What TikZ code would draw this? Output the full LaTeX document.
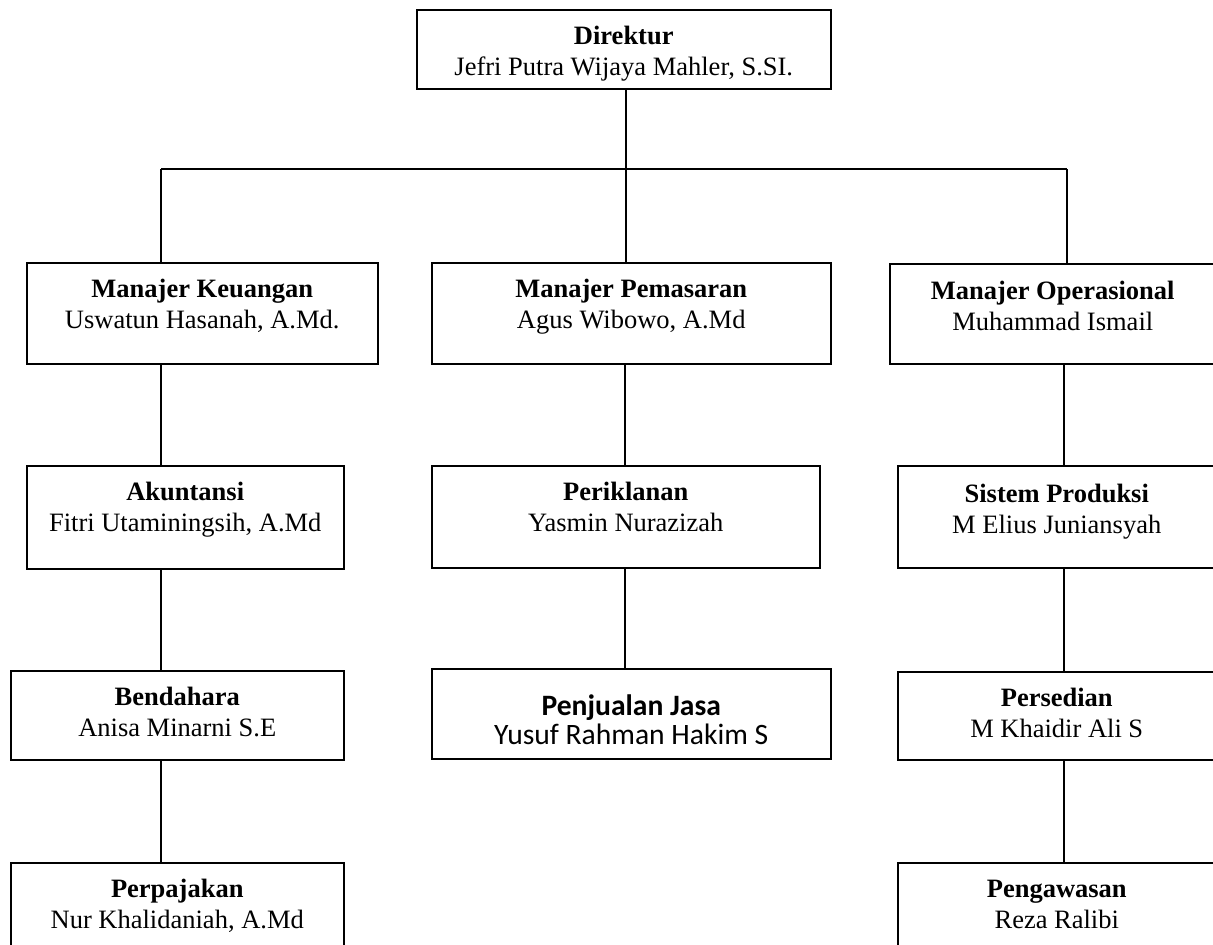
\documentclass[tikz,border=0pt]{standalone}
\usepackage{fontspec}
\setmainfont{Liberation Serif}
\newfontfamily\calib{Carlito}
\begin{document}
\begin{tikzpicture}[x=1pt,y=-1pt,
  box/.style={draw, line width=1.5pt, rectangle, anchor=north west, inner sep=0pt, align=center,
    font=\fontsize{26.5}{31}\selectfont, text height=66pt},
  conn/.style={line width=1.5pt}]
\useasboundingbox (0,0) rectangle (1213,945);
\clip (0,0) rectangle (1213,945);
% boxes
\node[box, minimum width=414pt, text height=66pt, text depth=13pt] (dir) at (416,9) {\textbf{Direktur}\\Jefri Putra Wijaya Mahler, S.SI.};
\node[box, minimum width=351pt, text depth=35pt] (mk) at (26,262) {\textbf{Manajer Keuangan}\\Uswatun Hasanah, A.Md.};
\node[box, minimum width=399pt, text depth=35pt] (mp) at (431,262) {\textbf{Manajer Pemasaran}\\Agus Wibowo, A.Md};
\node[box, minimum width=326pt, text height=67pt, text depth=33pt] (mo) at (889,263) {\textbf{Manajer Operasional}\\Muhammad Ismail};
\node[box, minimum width=317pt, text depth=37pt] (ak) at (26,465) {\textbf{Akuntansi}\\Fitri Utaminingsih, A.Md};
\node[box, minimum width=388pt, text depth=36pt] (pr) at (431,465) {\textbf{Periklanan}\\Yasmin Nurazizah};
\node[box, minimum width=318pt, text height=68pt, text depth=34pt] (sp) at (897,465) {\textbf{Sistem Produksi}\\M Elius Juniansyah};
\node[box, minimum width=333pt, text depth=23pt] (be) at (10,670) {\textbf{Bendahara}\\Anisa Minarni S.E};
\node[box, minimum width=399pt, text height=76pt, text depth=14pt, font=\calib\fontsize{29.6}{29}\selectfont] (pj) at (431,668) {\textbf{Penjualan Jasa}\\Yusuf Rahman Hakim S};
\node[box, minimum width=318pt, text depth=22pt] (ps) at (897,671) {\textbf{Persedian}\\M Khaidir Ali S};
\node[box, minimum width=333pt, text depth=34pt] (pp) at (10,862) {\textbf{Perpajakan}\\Nur Khalidaniah, A.Md};
\node[box, minimum width=318pt, text depth=34pt] (pg) at (897,862) {\textbf{Pengawasan}\\Reza Ralibi};
% connector coordinates
\coordinate (busL) at (161,169);
\coordinate (busM) at (626,169);
\coordinate (busR) at (1067,169);
\coordinate (lc) at (161,500);
\coordinate (mc) at (625,500);
\coordinate (rc) at (1064,500);
% connectors
\draw[conn] (dir.south -| busM) -- (busM);
\draw[conn] (busL) -- (busR);
\draw[conn] (busL) -- (mk.north -| busL);
\draw[conn] (busM) -- (mp.north -| busM);
\draw[conn] (busR) -- (mo.north -| busR);
\draw[conn] (mk.south -| lc) -- (ak.north -| lc);
\draw[conn] (ak.south -| lc) -- (be.north -| lc);
\draw[conn] (be.south -| lc) -- (pp.north -| lc);
\draw[conn] (mp.south -| mc) -- (pr.north -| mc);
\draw[conn] (pr.south -| mc) -- (pj.north -| mc);
\draw[conn] (mo.south -| rc) -- (sp.north -| rc);
\draw[conn] (sp.south -| rc) -- (ps.north -| rc);
\draw[conn] (ps.south -| rc) -- (pg.north -| rc);
\end{tikzpicture}
\end{document}
